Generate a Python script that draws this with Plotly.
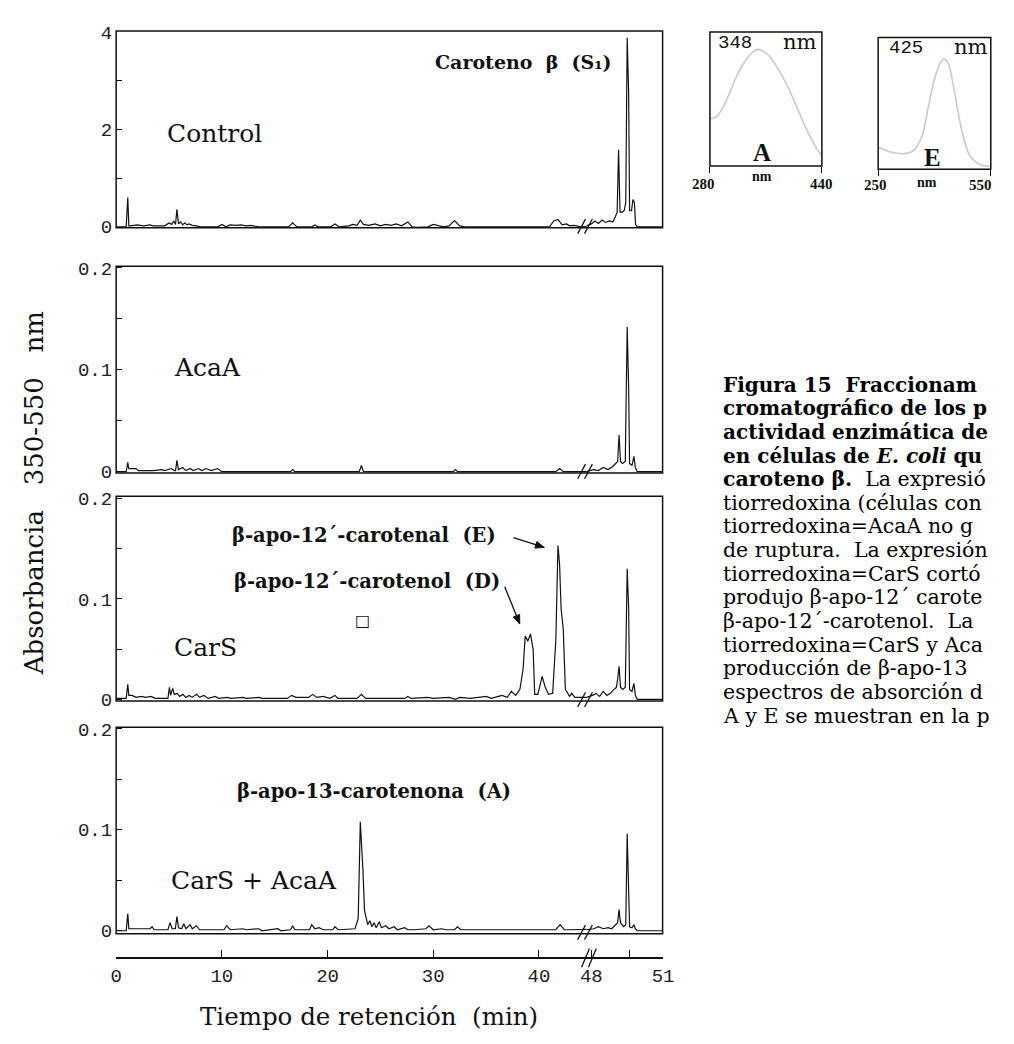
import math
import plotly.graph_objects as go

# The page adds an 8 px body margin, so the figure is 16 px smaller than the
# window and every layout position below is given in window pixels.
PAGE_W, PAGE_H, BODY = 1014, 1044, 8
W, H = PAGE_W - 2 * BODY, PAGE_H - 2 * BODY


def fx(px):
    return (px - BODY) / W


def fy(py):
    return 1 - (py - BODY) / H


# ---------------- data (retention time in min, absorbance) ----------------
control = [
    (0, 0), (0.95, 0), (1.1, 0.6), (1.2, 0.02), (1.35, 0.02), (2.0, 0.04), (2.6, 0.02), (3.2, 0.04),
    (3.5, 0.02), (4.6, 0.02), (5.0, 0.08), (5.25, 0.05), (5.45, 0.12), (5.62, 0.05), (5.75, 0.36),
    (5.9, 0.06), (6.1, 0.1), (6.3, 0.04), (6.5, 0.08), (6.7, 0.04), (6.9, 0.06), (7.2, 0.03),
    (7.6, 0.02), (8.0, 0.0), (9.6, 0.0), (10.0, 0.05), (10.4, 0.0), (10.8, 0.04), (11.3, 0.03),
    (11.8, 0.04), (12.3, 0.02), (12.7, 0.03), (13.5, 0.0), (16.3, 0.0), (16.7, 0.08), (17.1, 0.0),
    (18.5, 0.0), (18.8, 0.04), (19.1, 0.0), (20.3, 0.0), (20.7, 0.06), (21.1, 0.0), (22.0, 0.02),
    (22.4, 0.05), (22.8, 0.03), (23.1, 0.14), (23.4, 0.05), (23.9, 0.03), (24.5, 0.06), (25.0, 0.02),
    (25.5, 0.05), (26.0, 0.03), (26.5, 0.06), (27.0, 0.02), (27.6, 0.1), (28.0, 0.0), (28.4, -0.01),
    (29.5, 0.0), (30.0, 0.05), (30.5, 0.02), (31.0, 0.0), (31.5, 0.02), (32.0, 0.13), (32.5, 0.02),
    (33.0, 0.0), (41.0, 0.0), (41.4, 0.12), (41.8, 0.15), (42.2, 0.04), (42.6, 0.06), (42.9, 0.02),
    (43.3, 0.03), (44.0, 0.0),
    (47.8, 0.02), (48.0, 0.06), (48.15, 0.12), (48.3, 0.07), (48.45, 0.14), (48.6, 0.09),
    (48.75, 0.12), (48.9, 0.1), (49.0, 0.2), (49.08, 0.3), (49.14, 1.58), (49.2, 0.3), (49.3, 0.3),
    (49.38, 0.34), (49.44, 0.5), (49.5, 3.88), (49.53, 3.3), (49.56, 2.75), (49.6, 0.33),
    (49.68, 0.33), (49.74, 0.56), (49.8, 0.5), (49.85, 0.05), (49.92, 0.0), (51.0, 0.0),
]

acaa = [
    (0, 0), (0.95, 0), (1.1, 0.009), (1.2, 0.003), (1.9, 0.003), (2.1, 0.001), (3.5, 0.001),
    (4.3, 0.002), (4.6, 0.001), (5.2, 0.003), (5.5, 0.001), (5.62, 0.001), (5.75, 0.011),
    (5.9, 0.002), (6.3, 0.004), (6.6, 0.001), (7.0, 0.003), (7.3, 0.001), (7.8, 0.003),
    (8.1, 0.001), (8.5, 0.003), (9.0, 0.001), (9.6, 0.003), (10.0, 0.0), (16.5, 0.0),
    (16.7, 0.002), (16.9, 0.0), (23.0, 0.0), (23.2, 0.006), (23.4, 0.0), (31.9, 0.0),
    (32.1, 0.002), (32.3, 0.0), (41.6, 0.0), (41.95, 0.003), (42.3, 0.0), (44.5, 0.0),
    (47.8, 0.0), (48.1, 0.002), (48.3, 0.001), (48.5, 0.004), (48.7, 0.002), (48.9, 0.005),
    (49.0, 0.008), (49.1, 0.01), (49.16, 0.036), (49.22, 0.01), (49.3, 0.008), (49.42, 0.01),
    (49.5, 0.142), (49.53, 0.12), (49.56, 0.083), (49.6, 0.008), (49.7, 0.006), (49.78, 0.015),
    (49.84, 0.004), (49.92, 0.0), (51.0, 0.0),
]

cars = [
    (0, 0.001), (0.95, 0.001), (1.1, 0.015), (1.2, 0.004), (1.5, 0.004), (1.9, 0.002), (2.4, 0.003),
    (2.8, 0.002), (3.3, 0.003), (3.7, 0.001), (4.9, 0.001), (5.04, 0.012), (5.15, 0.004),
    (5.35, 0.011), (5.5, 0.005), (5.8, 0.006), (6.0, 0.003), (6.3, 0.005), (6.6, 0.002),
    (6.9, 0.004), (7.2, 0.002), (7.6, 0.005), (7.9, 0.002), (8.3, 0.004), (8.7, 0.001),
    (9.4, 0.003), (9.7, 0.001), (10.5, 0.002), (10.9, 0.001), (12.0, 0.002), (12.3, 0.001),
    (13.5, 0.002), (13.8, 0.001), (16.2, 0.001), (16.6, 0.004), (17.0, 0.002), (18.2, 0.002),
    (18.6, 0.005), (19.0, 0.002), (19.6, 0.003), (20.2, 0.001), (20.7, 0.004), (21.0, 0.001),
    (22.8, 0.001), (23.2, 0.005), (23.6, 0.001), (27.3, 0.001), (27.6, 0.003), (27.9, 0.001),
    (29.5, 0.002), (30.0, 0.001), (31.5, 0.002), (32.1, 0.0), (32.5, 0.002), (33.5, 0.001),
    (35.0, 0.003), (35.5, 0.001), (36.5, 0.004), (37.0, 0.002), (37.4, 0.008), (37.8, 0.004),
    (38.2, 0.01), (38.5, 0.03), (38.7, 0.063), (38.95, 0.058), (39.2, 0.065), (39.45, 0.05),
    (39.6, 0.005), (39.9, 0.005), (40.3, 0.023), (40.6, 0.012), (40.9, 0.005), (41.3, 0.006),
    (41.6, 0.06), (41.8, 0.153), (41.95, 0.135), (42.1, 0.09), (42.3, 0.07), (42.5, 0.01),
    (42.9, 0.003), (43.1, 0.006), (43.4, 0.002), (44.5, 0.002),
    (47.8, 0.002), (48.05, 0.004), (48.2, 0.006), (48.35, 0.003), (48.5, 0.008), (48.65, 0.004),
    (48.8, 0.006), (48.95, 0.01), (49.05, 0.012), (49.1, 0.02), (49.16, 0.033), (49.22, 0.012),
    (49.32, 0.01), (49.42, 0.012), (49.5, 0.13), (49.53, 0.11), (49.56, 0.092), (49.6, 0.01),
    (49.7, 0.008), (49.78, 0.016), (49.84, 0.004), (49.92, 0.0), (51.0, 0.0),
]

cars_acaa = [
    (0, 0), (0.95, 0), (1.1, 0.017), (1.2, 0.002), (3.2, 0.002), (3.4, 0.004), (3.6, 0.001),
    (4.9, 0.001), (5.1, 0.008), (5.3, 0.002), (5.6, 0.002), (5.75, 0.014), (5.9, 0.003),
    (6.2, 0.002), (6.4, 0.007), (6.6, 0.002), (7.0, 0.006), (7.2, 0.002), (7.6, 0.005),
    (7.9, 0.001), (10.2, 0.001), (10.45, 0.005), (10.8, 0.001), (12.0, 0.002), (12.3, 0.001),
    (13.5, 0.002), (13.8, 0.0), (15.3, 0.002), (15.6, 0.0), (16.5, 0.001), (16.7, 0.005),
    (16.9, 0.001), (18.3, 0.001), (18.5, 0.006), (18.8, 0.002), (19.2, 0.003), (19.6, 0.001),
    (20.5, 0.001), (20.7, 0.004), (21.0, 0.001), (22.6, 0.002), (22.9, 0.012), (23.1, 0.108),
    (23.2, 0.09), (23.35, 0.06), (23.5, 0.02), (23.65, 0.014), (23.8, 0.006), (24.0, 0.01),
    (24.2, 0.004), (24.4, 0.008), (24.6, 0.003), (24.9, 0.009), (25.1, 0.003), (25.5, 0.005),
    (25.8, 0.002), (26.3, 0.004), (26.6, 0.001), (27.3, 0.003), (27.6, 0.001), (28.2, 0.001),
    (29.3, 0.002), (29.6, 0.005), (30.0, 0.001), (30.8, 0.002), (31.2, 0.001), (32.0, 0.001),
    (32.3, 0.004), (32.6, 0.001), (41.6, 0.001), (42.0, 0.006), (42.4, 0.001), (43.0, 0.001),
    (44.5, 0.001),
    (47.8, 0.001), (48.1, 0.002), (48.3, 0.004), (48.5, 0.002), (48.7, 0.003), (48.85, 0.002),
    (49.0, 0.006), (49.1, 0.008), (49.16, 0.021), (49.22, 0.008), (49.35, 0.004), (49.44, 0.006),
    (49.5, 0.096), (49.53, 0.07), (49.56, 0.053), (49.6, 0.004), (49.7, 0.003), (49.78, 0.006),
    (49.84, 0.002), (49.92, 0.0), (51.0, 0.0),
]

# absorption spectra (wavelength nm, relative absorbance)
spec_a_wl = [280, 285, 290, 300, 310, 320, 330, 340, 348, 355, 365, 375, 385, 395, 405, 415, 425, 435, 440]
spec_a_ab = [0.36, 0.355, 0.37, 0.45, 0.57, 0.69, 0.78, 0.845, 0.87, 0.86, 0.82, 0.745, 0.655, 0.55, 0.43, 0.31, 0.2, 0.11, 0.075]
spec_e_wl = [250, 284, 319, 345, 367, 384, 402, 417, 425, 437, 454, 472, 494, 520, 550]
spec_e_ab = [0.168, 0.131, 0.119, 0.144, 0.255, 0.479, 0.702, 0.814, 0.838, 0.80, 0.578, 0.305, 0.106, 0.037, 0.02]

x_left_ticks = [0, 10, 20, 30, 40]
x_right_ticks = [48, 51]
x_right_minor = [49.6]

panel_names = ["Control", "AcaA", "CarS", "CarS + AcaA"]
panel_data = [control, acaa, cars, cars_acaa]

# ---------------- geometry (window pixels) ----------------
XL, XB, XR = 111, 590, 668
LEFT_RANGE = [0, 44.5]
RIGHT_RANGE = [47.8, 51]
panel_box = [(23.3, 224), (263.3, 474), (497.7, 706.7), (733.3, 944)]
panel_yrange = [[-0.02, 4.02], [-0.0013, 0.2016], [-0.0017, 0.2022], [-0.003, 0.2017]]
panel_ticks = [
    ([0, 2, 4], [1, 3]),
    ([0, 0.1, 0.2], [0.05, 0.15]),
    ([0, 0.1, 0.2], [0.05, 0.15]),
    ([0, 0.1, 0.2], [0.05, 0.15]),
]
AXIS_Y = 969

TICKFONT = dict(family="Liberation Mono", size=19, color="#222")
SERIF = "DejaVu Serif"
INK = "#111"


def xname(n):
    return "xaxis" if n == 1 else f"xaxis{n}"


def yname(n):
    return "yaxis" if n == 1 else f"yaxis{n}"


def xref(n):
    return "x" if n == 1 else f"x{n}"


def yref(n):
    return "y" if n == 1 else f"y{n}"


fig = go.Figure()
layout = {}
shapes = []
annotations = []


def seg(x0, y0, x1, y1, width=1.3):
    shapes.append(dict(type="line", xref="paper", yref="paper", x0=fx(x0), y0=fy(y0),
                       x1=fx(x1), y1=fy(y1), line=dict(color=INK, width=width)))


def arrow(x0, y0, x1, y1, head=9, half=3.5):
    seg(x0, y0, x1, y1, 1.3)
    L = math.hypot(x1 - x0, y1 - y0)
    ux, uy = (x1 - x0) / L, (y1 - y0) / L
    bx, by = x1 - ux * head, y1 - uy * head
    pts = [(x1, y1), (bx - uy * half, by + ux * half), (bx + uy * half, by - ux * half)]
    path = "M " + " L ".join(f"{fx(a):.5f},{fy(b):.5f}" for a, b in pts) + " Z"
    shapes.append(dict(type="path", xref="paper", yref="paper", path=path,
                       fillcolor=INK, line=dict(color=INK, width=1)))


for p, data in enumerate(panel_data):
    xl, xr, yi = 2 * p + 1, 2 * p + 2, p + 1
    top, bot = panel_box[p]
    t = [d[0] for d in data]
    a = [d[1] for d in data]
    for xn in (xl, xr):
        fig.add_trace(go.Scatter(x=t, y=a, mode="lines", xaxis=xref(xn), yaxis=yref(yi),
                                 line=dict(color=INK, width=1.2), hoverinfo="skip",
                                 showlegend=False))
    common_x = dict(showgrid=False, zeroline=False)
    if p == 3:
        axis_style = dict(anchor="free", position=fy(AXIS_Y), showline=True, linecolor=INK,
                          linewidth=1.5, ticks="inside", ticklen=8, tickwidth=1.3, tickcolor=INK,
                          tickfont=TICKFONT, **common_x)
        layout[xname(xl)] = dict(domain=[fx(XL), fx(XB)], range=LEFT_RANGE,
                                 tickvals=x_left_ticks, **axis_style)
        layout[xname(xr)] = dict(domain=[fx(XB), fx(XR)], range=RIGHT_RANGE,
                                 tickvals=x_right_ticks,
                                 minor=dict(tickmode="array", tickvals=x_right_minor, ticks="inside",
                                            ticklen=8, tickwidth=1.3, tickcolor=INK),
                                 **axis_style)
    else:
        layout[xname(xl)] = dict(domain=[fx(XL), fx(XB)], range=LEFT_RANGE, anchor=yref(yi),
                                 visible=False, **common_x)
        layout[xname(xr)] = dict(domain=[fx(XB), fx(XR)], range=RIGHT_RANGE, anchor=yref(yi),
                                 visible=False, **common_x)
    major, minor = panel_ticks[p]
    layout[yname(yi)] = dict(domain=[fy(bot), fy(top)], range=panel_yrange[p], anchor=xref(xl),
                             tickvals=major, ticks="inside", ticklen=6, tickwidth=1.2,
                             minor=dict(tickmode="array", tickvals=minor, ticks="inside", ticklen=6,
                                        tickwidth=1.2, tickcolor=INK),
                             tickcolor=INK, showline=False, showgrid=False, zeroline=False,
                             tickfont=TICKFONT, ticklabelstandoff=3)
    shapes.append(dict(type="rect", xref="paper", yref="paper", x0=fx(XL), x1=fx(667.5),
                       y0=fy(bot), y1=fy(top), line=dict(color=INK, width=1.5)))
    yb = bot - 1
    for dx in (0, 7):
        seg(581 + dx, yb + 7, 589 + dx, yb - 8)

for dx in (0, 7):
    seg(585 + dx, AXIS_Y + 9, 593 + dx, AXIS_Y - 10)

# ---------------- insets ----------------
insets = [
    dict(x=(715.7, 829.7), y=(24.3, 161), wl=spec_a_wl, ab=spec_a_ab, rng=[280, 440]),
    dict(x=(887, 1001.7), y=(30, 164.3), wl=spec_e_wl, ab=spec_e_ab, rng=[250, 550]),
]
for k, ins in enumerate(insets):
    xn, yn = 9 + k, 5 + k
    fig.add_trace(go.Scatter(x=ins["wl"], y=ins["ab"], mode="lines", xaxis=xref(xn), yaxis=yref(yn),
                             line=dict(color="#c9c9c9", width=1.6, shape="spline"),
                             hoverinfo="skip", showlegend=False))
    layout[xname(xn)] = dict(domain=[fx(ins["x"][0]), fx(ins["x"][1])], range=ins["rng"],
                             anchor=yref(yn), showline=False, showgrid=False, zeroline=False,
                             ticks="outside", ticklen=6, tickwidth=1.3, tickcolor=INK,
                             tickvals=ins["rng"], showticklabels=False)
    layout[yname(yn)] = dict(domain=[fy(ins["y"][1]), fy(ins["y"][0])], range=[0, 1],
                             anchor=xref(xn), visible=False)
    shapes.append(dict(type="rect", xref="paper", yref="paper", x0=fx(ins["x"][0]), x1=fx(ins["x"][1]),
                       y0=fy(ins["y"][1]), y1=fy(ins["y"][0]), line=dict(color=INK, width=1.5)))


def note(text, px, py, size=22, family=SERIF, anchor="center", bold=False, color=INK, angle=0):
    if bold:
        text = f"<b>{text}</b>"
    annotations.append(dict(text=text, x=fx(px), y=fy(py), xref="paper", yref="paper",
                            xanchor=anchor, yanchor="middle", showarrow=False, textangle=angle,
                            font=dict(family=family, size=size, color=color)))


# panel labels
note("Caroteno  β  (S₁)", 526, 55, size=19, bold=True)
note("Control", 211, 128, size=25)
note("AcaA", 204, 366, size=25)
note("β-apo-12´-carotenal  (E)", 363, 538, size=19.5, bold=True)
note("β-apo-12´-carotenol  (D)", 366, 585, size=19.5, bold=True)
note("□", 362, 625, size=16)
note("CarS", 202, 652, size=25)
note("β-apo-13-carotenona  (A)", 374, 799, size=19.5, bold=True)
note("CarS + AcaA", 251, 890, size=25)

# arrows to the D and E peaks
arrow(515.6, 540, 547, 550)
arrow(506.7, 590, 522, 628)

# axis titles
note("Absorbancia   350-550   nm", 27, 495, size=26, angle=-90)
note("Tiempo de retención  (min)", 368, 1028, size=24.5)

# inset texts
note("348", 741, 36, size=19, family="Liberation Mono")
note("nm", 807, 35, size=21)
note("A", 769, 147, size=25, family="Liberation Serif", bold=True)
note("nm", 769, 172, size=14, family="Liberation Serif", bold=True)
note("280", 709, 179, size=15, family="Liberation Serif", bold=True)
note("440", 829, 179, size=15, family="Liberation Serif", bold=True)
note("425", 915, 41, size=19, family="Liberation Mono")
note("nm", 982, 40, size=21)
note("E", 942, 152, size=25, family="Liberation Serif", bold=True)
note("nm", 937, 178, size=14, family="Liberation Serif", bold=True)
note("250", 884, 180, size=15, family="Liberation Serif", bold=True)
note("550", 1005, 180, size=15, family="Liberation Serif", bold=True, anchor="right")

# caption (as much of each line as the reference shows)
caption_bold = [
    "Figura 15  Fraccionam",
    "cromatográfico de los p",
    "actividad enzimática de",
    "en células de <i>E. coli</i> qu",
]
caption_plain = [
    "<b>caroteno β.</b>  La expresió",
    "tiorredoxina (células con",
    "tiorredoxina=AcaA no g",
    "de ruptura.  La expresión",
    "tiorredoxina=CarS cortó",
    "produjo β-apo-12´ carote",
    "β-apo-12´-carotenol.  La",
    "tiorredoxina=CarS y Aca",
    "producción de β-apo-13",
    "espectros de absorción d",
    "A y E se muestran en la p",
]
for i, line in enumerate(caption_bold):
    note(line, 727, 384 + 24.1 * i, size=20, anchor="left", color="#000", bold=True)
for j, line in enumerate(caption_plain):
    i = j + len(caption_bold)
    note(line, 727, 384 + 24.1 * i, size=20.5, anchor="left", color="#000")

fig.update_layout(width=W, height=H, margin=dict(l=0, r=0, t=0, b=0),
                  paper_bgcolor="white", plot_bgcolor="white", showlegend=False,
                  shapes=shapes, annotations=annotations, **layout)

fig.write_html("out.html", config={"displayModeBar": False})
